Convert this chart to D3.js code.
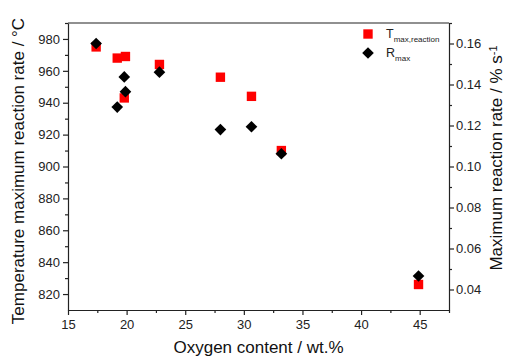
<!DOCTYPE html>
<html>
<head>
<meta charset="utf-8">
<script src="https://cdn.jsdelivr.net/npm/d3@7"></script>
<style>
body { margin: 0; background: #fff; }
text { font-family: "Liberation Sans", Arial, sans-serif; }
.axis path, .axis line { stroke: #222; stroke-width: 1.2; }
.axis text { font-size: 13px; fill: #222; }
</style>
</head>
<body>
<svg id="chart" width="505" height="357"></svg>
<script>
'use strict';

// oxygen content (wt.%) of the samples
var aOxygen = [17.4, 19.2, 19.8, 19.9, 22.8, 28.0, 30.65, 33.2, 44.9];
// temperature of maximum reaction rate / degC
var aTmax = [975, 968, 943, 969, 964, 956, 944, 910, 826];
// maximum reaction rate / % s-1
var aRmax = [0.160, 0.129, 0.1437, 0.1365, 0.146, 0.118, 0.1194, 0.1062, 0.0466];

var aXTicks = [15, 20, 25, 30, 35, 40, 45];
var aYLeftTicks = [820, 840, 860, 880, 900, 920, 940, 960, 980];
var aYRightTicks = [0.04, 0.06, 0.08, 0.10, 0.12, 0.14, 0.16];

var sSvg = d3.select('#chart');
var rPlot = {left: 68, right: 449, top: 23, bottom: 310};

var scaleX = d3.scaleLinear().domain([15, 47.5]).range([rPlot.left, rPlot.right]);
var scaleYL = d3.scaleLinear().domain([810, 990]).range([rPlot.bottom, rPlot.top]);
var scaleYR = d3.scaleLinear().domain([0.03, 0.17]).range([rPlot.bottom, rPlot.top]);

// frame top line
sSvg.append('line')
	.attr('x1', rPlot.left).attr('x2', rPlot.right)
	.attr('y1', rPlot.top).attr('y2', rPlot.top)
	.attr('stroke', '#222').attr('stroke-width', 1.2);

function MinorTicks(aMajor, nStep)
{
	return aMajor.map(function(v) { return v + nStep; });
}

// bottom axis
sSvg.append('g').attr('class', 'axis')
	.attr('transform', 'translate(0,' + rPlot.bottom + ')')
	.call(d3.axisBottom(scaleX).tickValues(aXTicks).tickSize(5).tickPadding(5).tickSizeOuter(0));
sSvg.append('g').attr('class', 'axis')
	.attr('transform', 'translate(0,' + rPlot.bottom + ')')
	.call(d3.axisBottom(scaleX).tickValues(MinorTicks(aXTicks, 2.5)).tickSize(3).tickFormat('').tickSizeOuter(0))
	.select('path').remove();

// left axis
sSvg.append('g').attr('class', 'axis')
	.attr('transform', 'translate(' + rPlot.left + ',0)')
	.call(d3.axisLeft(scaleYL).tickValues(aYLeftTicks).tickSize(5).tickPadding(3).tickSizeOuter(0));
sSvg.append('g').attr('class', 'axis')
	.attr('transform', 'translate(' + rPlot.left + ',0)')
	.call(d3.axisLeft(scaleYL).tickValues(MinorTicks(aYLeftTicks, 10)).tickSize(3).tickFormat('').tickSizeOuter(0))
	.select('path').remove();

// right axis
sSvg.append('g').attr('class', 'axis')
	.attr('transform', 'translate(' + rPlot.right + ',0)')
	.call(d3.axisRight(scaleYR).tickValues(aYRightTicks).tickSize(5).tickPadding(2).tickSizeOuter(0).tickFormat(d3.format('.2f')));
sSvg.append('g').attr('class', 'axis')
	.attr('transform', 'translate(' + rPlot.right + ',0)')
	.call(d3.axisRight(scaleYR).tickValues(MinorTicks(aYRightTicks, 0.01)).tickSize(3).tickFormat('').tickSizeOuter(0))
	.select('path').remove();

// axis titles
sSvg.append('text')
	.attr('x', (rPlot.left + rPlot.right) / 2).attr('y', 353)
	.attr('text-anchor', 'middle').style('font-size', '17px').attr('fill', '#111')
	.text('Oxygen content / wt.%');

sSvg.append('text')
	.attr('transform', 'translate(18,171) rotate(-90)')
	.attr('dy', '0.35em')
	.attr('text-anchor', 'middle').style('font-size', '17px').attr('fill', '#111')
	.text('Temperature maximum reaction rate / \u00B0C');

var sRight = sSvg.append('text')
	.attr('transform', 'translate(496,158) rotate(-90)')
	.attr('dy', '0.35em')
	.attr('text-anchor', 'middle').style('font-size', '17px').attr('fill', '#111');
sRight.append('tspan').text('Maximum reaction rate / % s');
sRight.append('tspan').attr('dy', '-0.45em').style('font-size', '11px').text('-1');

// data points
var aPoints = aOxygen.map(function(x, i) { return {x: x, t: aTmax[i], r: aRmax[i]}; });
var symSquare = d3.symbol().type(d3.symbolSquare).size(88);
var symDiamond = d3.symbol().type(d3.symbolSquare).size(68);

sSvg.append('g').selectAll('path')
	.data(aPoints).enter().append('path')
	.attr('d', symSquare)
	.attr('fill', '#ff0000')
	.attr('transform', function(d) { return 'translate(' + scaleX(d.x) + ',' + scaleYL(d.t) + ')'; });

sSvg.append('g').selectAll('path')
	.data(aPoints).enter().append('path')
	.attr('d', symDiamond)
	.attr('fill', '#000')
	.attr('transform', function(d) { return 'translate(' + scaleX(d.x) + ',' + scaleYR(d.r) + ') rotate(45)'; });

// legend
var sLegend = sSvg.append('g').attr('transform', 'translate(368,0)');
sLegend.append('path').attr('d', symSquare).attr('fill', '#ff0000').attr('transform', 'translate(0,34)');
sLegend.append('path').attr('d', symDiamond).attr('fill', '#000').attr('transform', 'translate(0,53) rotate(45)');

var sT = sLegend.append('text').attr('x', 18).attr('y', 38).style('font-size', '12.5px').attr('fill', '#222');
sT.append('tspan').text('T');
sT.append('tspan').attr('dy', '3.5').style('font-size', '8px').text('max,reaction');

var sR = sLegend.append('text').attr('x', 18).attr('y', 57).style('font-size', '12.5px').attr('fill', '#222');
sR.append('tspan').text('R');
sR.append('tspan').attr('dy', '3.5').style('font-size', '8px').text('max');
</script>
</body>
</html>
